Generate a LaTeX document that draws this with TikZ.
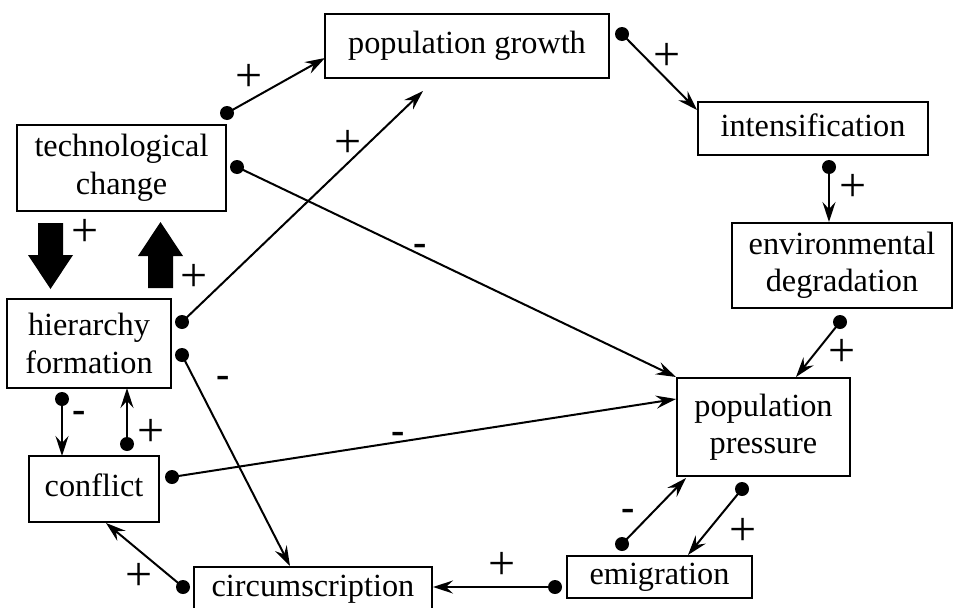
\documentclass[tikz,border=0pt]{standalone}
\usepackage{fontspec}
\setmainfont{Liberation Serif}
\usetikzlibrary{arrows.meta,calc}
\begin{document}
\begin{tikzpicture}[x=1pt,y=-1pt,
  box/.style={draw,line width=1.8pt,inner sep=0pt,align=center,font=\fontsize{32.3}{37.5}\selectfont},
  one/.style={text height=22pt,text depth=6.5pt},
  link/.style={line width=2pt,-{Stealth[length=20pt,width=13pt,inset=7pt]}},
  dot/.style={fill,circle,inner sep=0pt,minimum size=14pt},
  sign/.style={font=\fontsize{48}{48}\selectfont,inner sep=0pt},
  neg/.style={font=\fontsize{40}{40}\selectfont\bfseries,inner sep=0pt},
  fatarrow/.style={fill=black}]
\useasboundingbox (0,0) rectangle (954,608);

% boxes
\node[box,one,minimum width=284pt,minimum height=64pt] (pg) at (467,46) {population growth};
\node[box,one,minimum width=230pt,minimum height=53pt] (int) at (813,128.5) {intensification};
\node[box,minimum width=220pt,minimum height=85pt] (env) at (842,265.5) {environmental\\degradation};
\node[box,minimum width=173pt,minimum height=98pt] (pp) at (763.5,427) {population\\pressure};
\node[box,one,minimum width=185pt,minimum height=42pt] (emi) at (659.5,577) {emigration};
\node[box,one,minimum width=238pt,minimum height=44pt] (circ) at (313,589) {circumscription};
\node[box,one,minimum width=130pt,minimum height=66pt] (con) at (94,489) {conflict};
\node[box,minimum width=164pt,minimum height=89pt] (hf) at (89,343.5) {hierarchy\\formation};
\node[box,minimum width=209pt,minimum height=86pt] (tc) at (121.5,168) {technological\\change};

% fat arrows
\fill[fatarrow] (38,223) -- (63,223) -- (63,255) -- (73,255) -- (50.5,289) -- (28,255) -- (38,255) -- cycle;
\fill[fatarrow] (148,288) -- (173,288) -- (173,256) -- (183,256) -- (160.5,222) -- (138,256) -- (148,256) -- cycle;
\node[sign] (s0a) at (85,233) {+};
\node[sign] (s0b) at (194,278) {+};

% dots
\node[dot] (d1) at (227,113) {};
\node[dot] (d2) at (237,167) {};
\node[dot] (d3) at (182,322) {};
\node[dot] (d4) at (182,355) {};
\node[dot] (d5) at (62,399) {};
\node[dot] (d6) at (127,444) {};
\node[dot] (d7) at (172,477) {};
\node[dot] (d8) at (183,587) {};
\node[dot] (d9) at (555,587) {};
\node[dot] (d10) at (622,544) {};
\node[dot] (d11) at (742,489) {};
\node[dot] (d12) at (840,322) {};
\node[dot] (d13) at (829,167) {};
\node[dot] (d14) at (622,34) {};

% arrow ends
\coordinate (t1) at (325,58);
\coordinate (t2) at (676,377);
\coordinate (t3) at (423,91);
\coordinate (t4) at (290,566);
\coordinate (t5) at (62,456);
\coordinate (t6) at (127,388);
\coordinate (t7) at (676,399);
\coordinate (t8) at (106,523);
\coordinate (t9) at (433,587);
\coordinate (t10) at (686,478);
\coordinate (t11) at (688,555);
\coordinate (t12) at (796,377);
\coordinate (t13) at (829,222);
\coordinate (t14) at (697,110);

\foreach \i in {1,...,14} {\draw[link] (d\i.center) -- (t\i);}

% signs
\node[sign] (s1) at (249,78) {+};
\node[neg] (s2) at (420,250) {-};
\node[sign] (s3) at (348,144) {+};
\node[neg] (s4) at (223,382) {-};
\node[neg] (s5) at (79,417) {-};
\node[sign] (s6) at (151,433) {+};
\node[neg] (s7) at (398,438) {-};
\node[sign] (s8) at (139,577) {+};
\node[sign] (s9) at (502,566) {+};
\node[neg] (s10) at (628,515) {-};
\node[sign] (s11) at (743,532) {+};
\node[sign] (s12) at (842,353) {+};
\node[sign] (s13) at (853,188) {+};
\node[sign] (s14) at (667,57) {+};
\end{tikzpicture}
\end{document}
